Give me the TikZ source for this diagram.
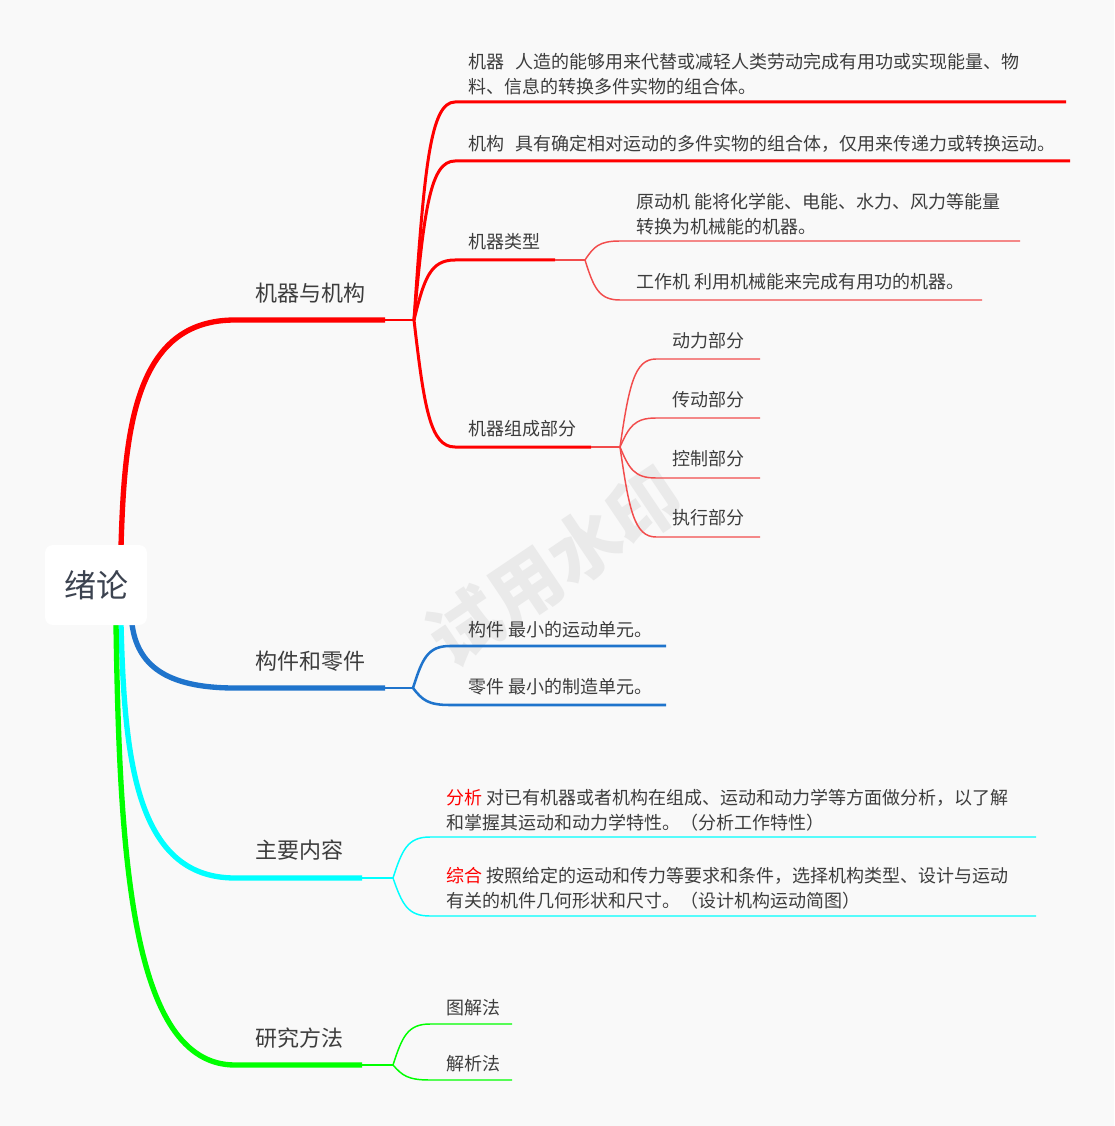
\documentclass[tikz,border=0pt]{standalone}
\usepackage{fontspec}
\setmainfont{Noto Sans CJK SC}
\usetikzlibrary{calc}
\definecolor{bg}{HTML}{F9F9F9}
\definecolor{txt}{HTML}{3D3D3D}
\definecolor{rootc}{HTML}{3C4350}
\definecolor{redA}{HTML}{FF0000}
\definecolor{redB}{HTML}{F24C4C}
\definecolor{blueA}{HTML}{1F74CC}
\definecolor{cyanA}{HTML}{00FFFF}
\definecolor{greenA}{HTML}{00FF00}
\definecolor{wm}{HTML}{EAEAEA}
\begin{document}
\begin{tikzpicture}[x=0.75pt,y=-0.75pt,line cap=butt,
  cv/.style n args={3}{to path={let \p1=(\tikztostart),\p2=(\tikztotarget) in
     .. controls ({\x1+#1*(\x2-\x1)},{\y1+#2*(\y2-\y1)}) and ({\x1+#3*(\x2-\x1)},{\y2}) .. (\tikztotarget)}},
  mainc/.style={cv={0.03}{0.52}{0.12}},
  bluec/.style={cv={0.05}{0.63}{0.32}},
  subc/.style={cv={0.25}{0.7}{0.4}},
  lbl/.style={inner sep=0pt, anchor=west, text=txt, font=\fontsize{13.5}{18.75}\selectfont},
  mlbl/.style={lbl, align=left, anchor=north west},
  toplbl/.style={inner sep=0pt, anchor=west, text=txt, font=\fontsize{16.5}{20}\selectfont},
  thickA/.style={line width=4pt},
  thinA/.style={line width=1.5pt},
  subA/.style={line width=2.25pt},
  leafA/.style={line width=1.1pt},
]
\fill[bg] (0,0) rectangle (1114,1126);
\useasboundingbox (0,0) rectangle (1114,1126);

% watermark
\node[text=wm, font=\fontsize{54}{54}\bfseries, rotate=34, inner sep=0pt] (wmk) at (555,566) {试用水印};

% coordinates
\coordinate (r0) at (121,547);
\coordinate (r1) at (235,320);
\coordinate (r2) at (385,320);
\coordinate (rj) at (414,320);
\coordinate (a1s) at (455,102); \coordinate (a1e) at (1066,102);
\coordinate (a2s) at (455,161); \coordinate (a2e) at (1070,161);
\coordinate (a3s) at (455,260); \coordinate (a3e) at (555,260); \coordinate (j3) at (585,260);
\coordinate (t1s) at (620,241); \coordinate (t1e) at (1020,241);
\coordinate (t2s) at (620,300); \coordinate (t2e) at (982,300);
\coordinate (a4s) at (455,447); \coordinate (a4e) at (591,447); \coordinate (j4) at (620,447);
\coordinate (p1s) at (656,359); \coordinate (p1e) at (760,359);
\coordinate (p2s) at (656,418); \coordinate (p2e) at (760,418);
\coordinate (p3s) at (656,478); \coordinate (p3e) at (760,478);
\coordinate (p4s) at (656,537); \coordinate (p4e) at (760,537);

\coordinate (b0) at (132,624);
\coordinate (b1) at (235,688);
\coordinate (b2) at (385,688);
\coordinate (bj) at (413,688);
\coordinate (q1s) at (450,646); \coordinate (q1e) at (666,646);
\coordinate (q2s) at (450,705); \coordinate (q2e) at (666,705);

\coordinate (c0) at (121,624);
\coordinate (c1) at (235,878);
\coordinate (c2) at (362,878);
\coordinate (cj) at (393,878);
\coordinate (k1s) at (430,837); \coordinate (k1e) at (1036,837);
\coordinate (k2s) at (430,916); \coordinate (k2e) at (1036,916);

\coordinate (g0) at (116,624);
\coordinate (g1) at (235,1065);
\coordinate (g2) at (362,1065);
\coordinate (gj) at (393,1065);
\coordinate (h1s) at (430,1024); \coordinate (h1e) at (512,1024);
\coordinate (h2s) at (430,1080); \coordinate (h2e) at (512,1080);

% red branch
\draw[redA, thickA] (r0) to[mainc] (r1) -- (r2);
\draw[redA, thinA] (r2) -- (rj);
\draw[redA, subA] (rj) to[subc] (a1s) -- (a1e);
\draw[redA, subA] (rj) to[subc] (a2s) -- (a2e);
\draw[redA, subA] (rj) to[subc] (a3s) -- (a3e);
\draw[redA, subA] (rj) to[subc] (a4s) -- (a4e);
\draw[redB, thinA] (a3e) -- (j3);
\draw[redB, thinA] (a4e) -- (j4);
\draw[redB, leafA] (j3) to[subc] (t1s) -- (t1e);
\draw[redB, leafA] (j3) to[subc] (t2s) -- (t2e);
\draw[redB, leafA] (j4) to[subc] (p1s) -- (p1e);
\draw[redB, leafA] (j4) to[subc] (p2s) -- (p2e);
\draw[redB, leafA] (j4) to[subc] (p3s) -- (p3e);
\draw[redB, leafA] (j4) to[subc] (p4s) -- (p4e);

% blue branch
\draw[blueA, thickA] (b0) to[bluec] (b1) -- (b2);
\draw[blueA, thinA] (b2) -- (bj);
\draw[blueA, line width=1.9pt] (bj) to[subc] (q1s) -- (q1e);
\draw[blueA, line width=1.9pt] (bj) to[subc] (q2s) -- (q2e);

% cyan branch
\draw[cyanA, thickA] (c0) to[mainc] (c1) -- (c2);
\draw[cyanA, thinA] (c2) -- (cj);
\draw[cyanA, leafA] (cj) to[subc] (k1s) -- (k1e);
\draw[cyanA, leafA] (cj) to[subc] (k2s) -- (k2e);

% green branch
\draw[greenA, thickA] (g0) to[mainc] (g1) -- (g2);
\draw[greenA, thinA] (g2) -- (gj);
\draw[greenA, leafA] (gj) to[subc] (h1s) -- (h1e);
\draw[greenA, leafA] (gj) to[subc] (h2s) -- (h2e);

% root
\node[fill=white, rounded corners=6pt, minimum width=76.5pt, minimum height=60pt, inner sep=0pt,
      text=rootc, font=\fontsize{24}{28}\selectfont] (root) at (96,585) {绪论};

% main labels
\node[toplbl] (n1) at (255,293) {机器与机构};
\node[toplbl] (n2) at (255,661) {构件和零件};
\node[toplbl] (n3) at (255,850) {主要内容};
\node[toplbl] (n4) at (255,1038) {研究方法};

% red texts
\node[mlbl] (s1) at (468,53) {机器\hspace{0.6em}人造的能够用来代替或减轻人类劳动完成有用功或实现能量、物\\料、信息的转换多件实物的组合体。};
\node[lbl] (s2) at (468,144) {机构\hspace{0.6em}具有确定相对运动的多件实物的组合体，仅用来传递力或转换运动。};
\node[lbl] (s3) at (468,242) {机器类型};
\node[mlbl] (s31) at (636,193) {原动机 能将化学能、电能、水力、风力等能量\\转换为机械能的机器。};
\node[lbl] (s32) at (636,282) {工作机 利用机械能来完成有用功的机器。};
\node[lbl] (s4) at (468,429) {机器组成部分};
\node[lbl] (s41) at (672,341) {动力部分};
\node[lbl] (s42) at (672,400) {传动部分};
\node[lbl] (s43) at (672,459) {控制部分};
\node[lbl] (s44) at (672,518) {执行部分};

% blue texts
\node[lbl] (u1) at (468,630) {构件 最小的运动单元。};
\node[lbl] (u2) at (468,687) {零件 最小的制造单元。};

% cyan texts
\node[mlbl] (v1) at (446,789) {\textcolor{redA}{分析} 对已有机器或者机构在组成、运动和动力学等方面做分析，以了解\\和掌握其运动和动力学特性。（分析工作特性）};
\node[mlbl] (v2) at (446,867) {\textcolor{redA}{综合} 按照给定的运动和传力等要求和条件，选择机构类型、设计与运动\\有关的机件几何形状和尺寸。（设计机构运动简图）};

% green texts
\node[lbl] (w1) at (446,1008) {图解法};
\node[lbl] (w2) at (446,1064) {解析法};
\end{tikzpicture}
\end{document}
